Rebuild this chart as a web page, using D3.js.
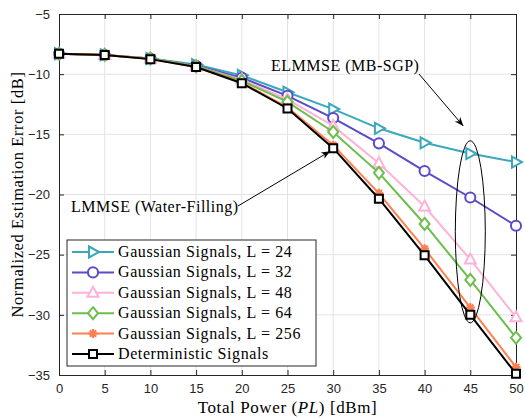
<!DOCTYPE html>
<html>
<head>
<meta charset="utf-8">
<script src="https://cdn.jsdelivr.net/npm/d3@7"></script>
<style>
  body { margin: 0; background: #fff; }
  svg { display: block; }
  .tick text { font-family: "Liberation Sans", Arial, sans-serif; font-size: 13px; fill: #262626; }
  .lbl { font-family: "Liberation Serif", "Times New Roman", serif; fill: #000; letter-spacing: 0.6px; }
  .note { letter-spacing: 0.5px; }
</style>
</head>
<body>
<div class="chartContainer"></div>
<script>
// data
const power = [0, 5, 10, 15, 20, 25, 30, 35, 40, 45, 50]
const gaussL24 = [-8.3, -8.4, -8.7, -9.2, -10.1, -11.5, -12.9, -14.5, -15.7, -16.6, -17.3]
const gaussL32 = [-8.3, -8.4, -8.7, -9.3, -10.3, -11.8, -13.65, -15.75, -18.05, -20.25, -22.6]
const gaussL48 = [-8.3, -8.4, -8.7, -9.35, -10.45, -12.1, -14.3, -17.4, -21.0, -25.4, -30.2]
const gaussL64 = [-8.3, -8.4, -8.7, -9.35, -10.55, -12.3, -14.8, -18.2, -22.45, -27.1, -31.9]
const gaussL256 = [-8.3, -8.4, -8.75, -9.4, -10.7, -12.75, -15.9, -19.9, -24.5, -29.4, -34.35]
const determ = [-8.3, -8.4, -8.75, -9.4, -10.75, -12.85, -16.15, -20.35, -25.05, -30.0, -34.9]
const xTicks = [0, 5, 10, 15, 20, 25, 30, 35, 40, 45, 50]
const yTicks = [-35, -30, -25, -20, -15, -10, -5]

const series = [
    { name: 'Gaussian Signals, L = 24', values: gaussL24, color: '#3aa8bb', marker: 'tri-right' },
    { name: 'Gaussian Signals, L = 32', values: gaussL32, color: '#5a4bc9', marker: 'circle' },
    { name: 'Gaussian Signals, L = 48', values: gaussL48, color: '#ffb1d8', marker: 'tri-up' },
    { name: 'Gaussian Signals, L = 64', values: gaussL64, color: '#6cbe4c', marker: 'diamond' },
    { name: 'Gaussian Signals, L = 256', values: gaussL256, color: '#ff7f50', marker: 'star' },
    { name: 'Deterministic Signals', values: determ, color: '#000000', marker: 'square' }
]

const W = 525, H = 418
const m = { left: 59, right: 9, top: 14, bottom: 43 }

const x = d3.scaleLinear().domain([0, 50]).range([m.left, W - m.right])
const y = d3.scaleLinear().domain([-35, -5]).range([H - m.bottom, m.top])

const svg = d3.select('.chartContainer')
    .append('svg')
    .attr('width', W)
    .attr('height', H)

// grid
const grid = svg.append('g').classed('grid', true)
grid.selectAll('line.gx')
    .data(xTicks.slice(1, -1))
    .enter().append('line')
    .attr('x1', d => x(d)).attr('x2', d => x(d))
    .attr('y1', m.top).attr('y2', H - m.bottom)
    .attr('stroke', '#e3e3e3').attr('stroke-width', 1)
grid.selectAll('line.gy')
    .data(yTicks.slice(1, -1))
    .enter().append('line')
    .attr('y1', d => y(d)).attr('y2', d => y(d))
    .attr('x1', m.left).attr('x2', W - m.right)
    .attr('stroke', '#e3e3e3').attr('stroke-width', 1)

// axes, ticks point inward
function styleAxis(g) {
    g.select('.domain').attr('stroke', '#262626')
    g.selectAll('.tick line').attr('stroke', '#262626')
}
svg.append('g')
    .attr('transform', `translate(0,${H - m.bottom})`)
    .call(d3.axisBottom(x).tickValues(xTicks).tickSizeInner(-5).tickSizeOuter(0).tickPadding(9))
    .call(styleAxis)
svg.append('g')
    .attr('transform', `translate(0,${m.top})`)
    .call(d3.axisTop(x).tickValues(xTicks).tickSizeInner(-5).tickSizeOuter(0).tickFormat(''))
    .call(styleAxis)
svg.append('g')
    .attr('transform', `translate(${m.left},0)`)
    .call(d3.axisLeft(y).tickValues(yTicks).tickSizeInner(-5).tickSizeOuter(0).tickPadding(9))
    .call(styleAxis)
svg.append('g')
    .attr('transform', `translate(${W - m.right},0)`)
    .call(d3.axisRight(y).tickValues(yTicks).tickSizeInner(-5).tickSizeOuter(0).tickFormat(''))
    .call(styleAxis)

// markers
function markerPath(type) {
    switch (type) {
        case 'tri-right': return 'M-4,-5.5L6,0L-4,5.5Z'
        case 'tri-up': return 'M0,-6L5.5,4L-5.5,4Z'
        case 'diamond': return 'M0,-6L5,0L0,6L-5,0Z'
        case 'square': return 'M-4,-4L4,-4L4,4L-4,4Z'
        case 'circle': return d3.symbol(d3.symbolCircle, 80)()
        case 'star': return 'M-4.5,0L4.5,0M0,-4.5L0,4.5M-3.2,-3.2L3.2,3.2M-3.2,3.2L3.2,-3.2'
    }
}
function drawMarker(g, type, color) {
    g.append('path')
        .attr('d', markerPath(type))
        .attr('fill', type === 'star' ? 'none' : '#fff')
        .attr('stroke', color)
        .attr('stroke-width', type === 'star' ? 2.2 : 2)
}

const line = d3.line()
    .x((d, i) => x(power[i]))
    .y(d => y(d))

const plot = svg.append('g').classed('lines', true)
series.forEach(s => {
    plot.append('path')
        .attr('d', line(s.values))
        .attr('fill', 'none')
        .attr('stroke', s.color)
        .attr('stroke-width', 2)
    s.values.forEach((v, i) => {
        const g = plot.append('g').attr('transform', `translate(${x(power[i])},${y(v)})`)
        drawMarker(g, s.marker, s.color)
    })
})

// axis labels
svg.append('text')
    .classed('lbl', true)
    .attr('x', (m.left + W - m.right) / 2)
    .attr('y', 413)
    .attr('text-anchor', 'middle')
    .attr('font-size', 17)
    .html('Total Power (<tspan font-style="italic">PL</tspan>) [dBm]')
svg.append('text')
    .classed('lbl', true)
    .attr('transform', `translate(23,${(m.top + H - m.bottom) / 2}) rotate(-90)`)
    .attr('text-anchor', 'middle')
    .attr('font-size', 16.5)
    .text('Normalized Estimation Error [dB]')

// annotations
const defs = svg.append('defs')
defs.append('marker')
    .attr('id', 'arrow')
    .attr('viewBox', '0 0 10 10')
    .attr('refX', 10).attr('refY', 5)
    .attr('markerWidth', 9).attr('markerHeight', 9)
    .attr('markerUnits', 'userSpaceOnUse')
    .attr('orient', 'auto')
    .append('path')
    .attr('d', 'M0,1L10,5L0,9L3,5Z')
    .attr('fill', '#000')

svg.append('text')
    .classed('lbl note', true)
    .attr('x', 271).attr('y', 71)
    .attr('font-size', 16)
    .text('ELMMSE (MB-SGP)')
svg.append('line')
    .attr('x1', 419).attr('y1', 74)
    .attr('x2', x(45) - 7).attr('y2', 126)
    .attr('stroke', '#000').attr('stroke-width', 1)
    .attr('marker-end', 'url(#arrow)')
svg.append('ellipse')
    .attr('cx', x(45)).attr('cy', y(-23.1))
    .attr('rx', 15).attr('ry', 91)
    .attr('fill', 'none').attr('stroke', '#000').attr('stroke-width', 1)

svg.append('text')
    .classed('lbl note', true)
    .attr('x', 71).attr('y', 212)
    .attr('font-size', 16)
    .text('LMMSE (Water-Filling)')
svg.append('line')
    .attr('x1', 238).attr('y1', 206)
    .attr('x2', x(30) - 3).attr('y2', y(determ[6]) + 3)
    .attr('stroke', '#000').attr('stroke-width', 1)
    .attr('marker-end', 'url(#arrow)')

// legend
const legend = svg.append('g').attr('transform', 'translate(67,240)')
legend.append('rect')
    .attr('width', 249).attr('height', 126)
    .attr('fill', '#fff').attr('stroke', '#262626').attr('stroke-width', 1)
series.forEach((s, i) => {
    const row = legend.append('g').attr('transform', `translate(0,${12 + i * 20.4})`)
    row.append('line')
        .attr('x1', 5).attr('x2', 47)
        .attr('stroke', s.color).attr('stroke-width', 2)
    drawMarker(row.append('g').attr('transform', 'translate(26,0)'), s.marker, s.color)
    row.append('text')
        .classed('lbl', true)
        .attr('x', 51).attr('y', 5)
        .attr('font-size', 16)
        .text(s.name)
})
</script>
</body>
</html>
